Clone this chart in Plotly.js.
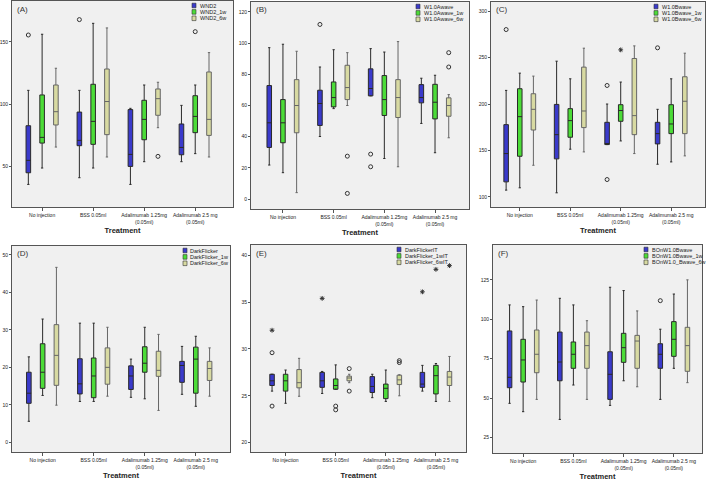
<!DOCTYPE html>
<html><head><meta charset="utf-8">
<script src="https://cdn.plot.ly/plotly-3.0.1.min.js"></script>
<style>html,body{margin:0;padding:0;background:#fff}#chart{width:708px;height:483px}</style>
</head><body><div id="chart"></div><script>
// ---------- DATA ----------
const treatments = ["No injection", "BSS 0.05ml", "Adalimumab 1.25mg<br>(0.05ml)", "Adalimumab 2.5 mg<br>(0.05ml)"];

// (A)
const A_names = ["WND2", "WND2_1w", "WND2_6w"];
const A_low  = [[35.2, 40.6, 35.2, 53.5], [48.4, 48.4, 53.5, 60.0], [65.3, 57.3, 80.9, 57.3]];
const A_q1   = [[44.6, 66.4, 49.7, 59.1], [68.5, 67.5, 71.2, 76.9], [83.1, 75.3, 90.9, 74.7]];
const A_med  = [[54.6, 70.7, 59.4, 65.0], [73.1, 86.0, 87.6, 90.0], [93.8, 102.0, 104.3, 87.6]];
const A_q3   = [[82.5, 93.5, 95.5, 83.9], [107.3, 115.9, 103.0, 106.7], [115.3, 128.2, 112.1, 125.8]];
const A_high = [[111.0, 111.0, 96.5, 98.9], [156.2, 165.0, 115.3, 115.3], [128.8, 161.3, 117.5, 141.4]];
const A_out  = [[0, 0, 155.6, "o"], [0, 1, 168.0, "o"], [2, 2, 57.8, "o"], [1, 3, 158.3, "o"]];

// (B)
const B_names = ["W1.0Awave", "W1.0Awave_1w", "W1.0Awave_6w"];
const B_low  = [[21.8, 40.1, 66.2, 48.5], [16.9, 58.0, 26.0, 29.7], [4.1, 60.0, 20.7, 39.3]];
const B_q1   = [[33.1, 47.2, 66.2, 61.7], [36.1, 59.1, 53.6, 51.4], [42.5, 63.8, 52.3, 53.1]];
const B_med  = [[48.9, 61.3, 70.9, 65.1], [48.9, 65.1, 63.8, 62.1], [60.0, 71.5, 65.1, 60.0]];
const B_q3   = [[72.8, 69.8, 83.5, 73.4], [63.8, 75.1, 79.2, 73.6], [76.6, 85.8, 76.6, 64.9]];
const B_high = [[97.1, 84.7, 96.5, 77.5], [99.3, 95.8, 94.3, 79.4], [94.8, 93.9, 101.0, 67.0]];
const B_out  = [[0, 1, 112.0, "o"], [2, 1, 27.5, "o"], [2, 1, 3.6, "o"], [0, 2, 28.8, "o"], [0, 2, 20.7, "o"], [2, 3, 93.9, "o"], [2, 3, 84.7, "o"]];

// (C)
const C_names = ["W1.0Bwave", "W1.0Bwave_1w", "W1.0Bwave_6w"];
const C_low  = [[107.2, 104.3, 156.3, 135.1], [109.7, 151.3, 160.2, 137.6], [134.0, 148.4, 146.6, 144.1]];
const C_q1   = [[116.1, 140.9, 156.3, 157.0], [143.7, 164.2, 181.4, 168.1], [172.0, 174.6, 167.0, 168.1]];
const C_med  = [[146.6, 167.0, 157.5, 168.1], [186.4, 182.1, 193.0, 178.5], [194.3, 192.5, 187.5, 203.0]];
const C_q3   = [[177.8, 199.6, 180.3, 180.3], [216.5, 195.0, 199.3, 199.3], [211.1, 239.8, 249.1, 229.4]];
const C_high = [[214.7, 246.2, 200.0, 194.3], [233.3, 227.2, 223.7, 227.2], [230.1, 260.2, 262.7, 254.8]];
const C_out  = [[0, 0, 280.3, "o"], [0, 2, 220.0, "o"], [0, 2, 118.6, "o"], [1, 2, 258.4, "*"], [0, 3, 260.6, "o"]];

// (D)
const D_names = ["DarkFlicker", "DarkFlicker_1w", "DarkFlicker_6w"];
const D_low  = [[5.6, 10.9, 12.0, 12.8], [12.5, 10.9, 11.6, 9.6], [9.9, 12.3, 8.5, 12.3]];
const D_q1   = [[10.4, 12.9, 14.1, 16.0], [14.4, 11.9, 18.7, 13.1], [15.2, 15.5, 17.6, 16.5]];
const D_med  = [[13.1, 15.6, 17.7, 20.5], [18.7, 17.7, 21.1, 22.2], [23.2, 20.0, 19.2, 19.7]];
const D_q3   = [[18.7, 22.3, 20.4, 21.6], [26.3, 22.5, 25.5, 25.4], [31.4, 25.2, 24.3, 21.6]];
const D_high = [[22.8, 31.8, 22.2, 25.6], [32.9, 31.8, 30.7, 28.3], [46.7, 30.7, 28.8, 25.2]];
const D_out  = [];

// (E)
const E_names = ["DarkFlickerIT", "DarkFlicker_1wIT", "DarkFlicker_6wIT"];
const E_low  = [[25.5, 25.25, 24.8, 25.5], [24.2, 25.7, 24.4, 24.4], [24.95, 26.4, 25.0, 24.4]];
const E_q1   = [[26.1, 25.9, 25.35, 25.9], [25.5, 25.7, 24.7, 25.2], [25.85, 26.6, 26.2, 26.1]];
const E_med  = [[26.6, 26.6, 26.0, 26.25], [26.6, 26.1, 25.8, 27.15], [26.4, 26.9, 26.7, 27.0]];
const E_q3   = [[27.3, 27.5, 27.05, 27.5], [27.3, 26.8, 26.25, 28.25], [27.8, 27.1, 27.2, 27.6]];
const E_high = [[27.3, 27.6, 27.3, 28.25], [27.75, 28.3, 27.75, 28.45], [29.0, 27.3, 27.25, 29.2]];
const E_out  = [[0, 0, 32.0, "*"], [0, 0, 29.6, "o"], [0, 0, 23.9, "o"], [0, 1, 35.4, "*"],
                [1, 1, 23.9, "o"], [1, 1, 23.5, "o"], [2, 1, 27.9, "o"], [2, 1, 25.5, "o"],
                [2, 2, 28.75, "o"], [2, 2, 28.55, "o"], [0, 3, 36.1, "*"], [1, 3, 38.5, "*"], [2, 3, 38.9, "*"]];

// (F)
const F_names = ["BOnW1.0Bwave", "BOnW1.0Bwave_1w", "BOnW1.0_Bwave_6w"];
const F_low  = [[46.7, 36.5, 45.4, 49.2], [41.4, 58.3, 61.0, 68.9], [49.2, 49.2, 57.2, 59.8]];
const F_q1   = [[56.6, 61.0, 49.2, 68.9], [60.2, 68.9, 72.7, 76.5], [66.1, 68.9, 68.9, 67.0]];
const F_med  = [[63.2, 72.9, 65.1, 77.8], [74.2, 77.8, 82.0, 87.3], [77.8, 83.3, 86.2, 83.3]];
const F_q3   = [[92.6, 91.9, 79.4, 84.5], [87.3, 85.6, 91.1, 98.5], [93.2, 91.9, 89.8, 94.9]];
const F_high = [[109.1, 113.3, 120.3, 93.7], [108.0, 109.1, 118.2, 116.0], [112.2, 99.1, 105.3, 125.0]];
const F_out  = [[0, 3, 111.8, "o"]];

// ---------- STYLE / LAYOUT ----------
const W = 708, H = 483;
const FONT = "Liberation Sans, Arial, sans-serif";
const fills = ["#3a3acb", "#4cdc38", "#d8daa2"];
const lines = ["#2a2a2a", "#2a2a2a", "#666666"];
const offsets = [-0.27, 0, 0.27];
const boxW = 0.09;

const panels = [
  {tag: "(A)", names: A_names, low: A_low, q1: A_q1, med: A_med, q3: A_q3, high: A_high, out: A_out,
   px: [12, 233, 1, 207], xr: [-0.59, 3.74], yr: [17, 183], dtick: 50, legX: 192},
  {tag: "(B)", names: B_names, low: B_low, q1: B_q1, med: B_med, q3: B_q3, high: B_high, out: B_out,
   px: [251, 469, 2, 209], xr: [-0.63, 3.67], yr: [-6.4, 126.4], dtick: 20, legX: 416},
  {tag: "(C)", names: C_names, low: C_low, q1: C_q1, med: C_med, q3: C_q3, high: C_high, out: C_out,
   px: [491, 705, 2, 207], xr: [-0.57, 3.67], yr: [89, 310], dtick: 50, legX: 654},
  {tag: "(D)", names: D_names, low: D_low, q1: D_q1, med: D_med, q3: D_q3, high: D_high, out: D_out,
   px: [12, 230, 246, 452], xr: [-0.6, 3.67], yr: [-2.6, 52.4], dtick: 10, legX: 183},
  {tag: "(E)", names: E_names, low: E_low, q1: E_q1, med: E_med, q3: E_q3, high: E_high, out: E_out,
   px: [251, 466, 245, 452], xr: [-0.69, 3.6], yr: [19, 41.1], dtick: 5, legX: 397},
  {tag: "(F)", names: F_names, low: F_low, q1: F_q1, med: F_med, q3: F_q3, high: F_high, out: F_out,
   px: [493, 702, 245, 453], xr: [-0.6, 3.56], yr: [15.2, 147.1], dtick: 25, legX: 644}
];

const fx = v => v / W;
const fy = v => 1 - v / H;

const traces = [];
const layout = {
  width: W, height: H,
  margin: {l: 0, r: 0, t: 0, b: 0},
  paper_bgcolor: "#ffffff",
  plot_bgcolor: "#f0f0f0",
  showlegend: false,
  boxmode: "overlay",
  font: {family: FONT, color: "#222"},
  shapes: [],
  annotations: []
};

panels.forEach((p, k) => {
  const s = k === 0 ? "" : String(k + 1);
  const xa = "x" + s, ya = "y" + s;
  const [l, r, t, b] = p.px;

  layout["xaxis" + s] = {
    domain: [fx(l), fx(r)], anchor: ya, range: p.xr,
    tickmode: "array", tickvals: treatments.map((_, i) => i), ticktext: treatments,
    tickangle: 0, automargin: false,
    showline: true, mirror: true, linecolor: "#555", linewidth: 1,
    ticks: "outside", ticklen: 3, tickcolor: "#555",
    showgrid: false, zeroline: false,
    tickfont: {size: 5, family: FONT, color: "#222"},
    title: {text: "Treatment", font: {size: 7.5, family: FONT, color: "#222", weight: "bold"}, standoff: 4}
  };
  layout["yaxis" + s] = {
    domain: [fy(b), fy(t)], anchor: xa, range: p.yr,
    tick0: 0, dtick: p.dtick, automargin: false,
    showline: true, mirror: true, linecolor: "#555", linewidth: 1,
    ticks: "outside", ticklen: 2, tickcolor: "#555",
    showgrid: false, zeroline: false,
    tickfont: {size: 5, family: FONT, color: "#222"}
  };

  p.names.forEach((name, j) => {
    traces.push({
      type: "box", name: name, orientation: "v",
      xaxis: xa, yaxis: ya,
      x: treatments.map((_, i) => i + offsets[j]),
      q1: p.q1[j], median: p.med[j], q3: p.q3[j],
      lowerfence: p.low[j], upperfence: p.high[j],
      width: boxW, whiskerwidth: 0.5,
      fillcolor: fills[j], line: {color: lines[j], width: 1},
      boxpoints: false, hoverinfo: "y"
    });

    // legend entry (drawn inside the plot frame)
    const ry = t + 4.5 + 6.4 * j;
    layout.shapes.push({
      type: "rect", xref: "paper", yref: "paper",
      x0: fx(p.legX), x1: fx(p.legX + 4), y0: fy(ry + 2.3), y1: fy(ry - 2.3),
      fillcolor: fills[j], line: {color: "#333", width: 0.6}
    });
    layout.annotations.push({
      xref: "paper", yref: "paper", x: fx(p.legX + 5.5), y: fy(ry),
      xanchor: "left", yanchor: "middle", showarrow: false,
      text: name, font: {size: 5.5, family: FONT, color: "#222"}
    });
  });

  // outliers
  ["o", "*"].forEach(kind => {
    const pts = p.out.filter(o => o[3] === kind);
    if (!pts.length) return;
    traces.push({
      type: "scatter", mode: "markers", xaxis: xa, yaxis: ya,
      x: pts.map(o => o[1] + offsets[o[0]]), y: pts.map(o => o[2]),
      marker: kind === "o"
        ? {symbol: "circle-open", size: 4, color: "#333", line: {width: 1, color: "#333"}}
        : {symbol: "asterisk-open", size: 4, color: "#333", line: {width: 1, color: "#333"}},
      hoverinfo: "y"
    });
  });

  // panel tag
  layout.annotations.push({
    xref: "paper", yref: "paper", x: fx(l + 3), y: fy(t + 8),
    xanchor: "left", yanchor: "middle", showarrow: false,
    text: p.tag, font: {size: 8, family: FONT, color: "#333"}
  });
});

Plotly.newPlot("chart", traces, layout, {displayModeBar: false, staticPlot: true});
</script></body></html>
